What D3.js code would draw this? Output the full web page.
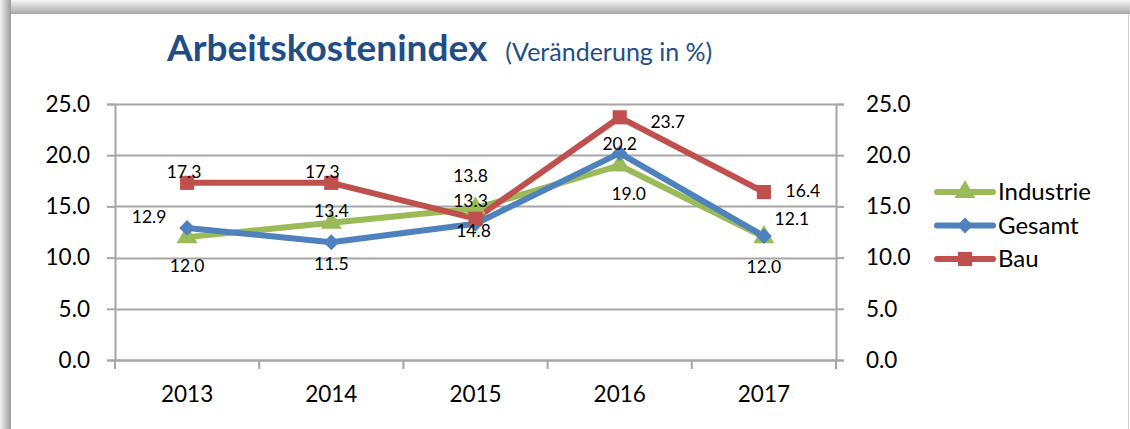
<!DOCTYPE html>
<html>
<head>
<meta charset="utf-8">
<script src="https://cdn.jsdelivr.net/npm/d3@7"></script>
<style>
  body { margin: 0; background: #fff; }
  svg { display: block; font-family: Lato, "Open Sans", sans-serif; }
</style>
</head>
<body>
<svg id="chart" width="1130" height="429"></svg>
<script>
// data
var years = ["2013", "2014", "2015", "2016", "2017"];
var seriesNames = ["Industrie", "Gesamt", "Bau"];
var industrie = [12.0, 13.4, 14.8, 19.0, 12.0];
var gesamt = [12.9, 11.5, 13.3, 20.2, 12.1];
var bau = [17.3, 17.3, 13.8, 23.7, 16.4];
var yTicks = [0, 5, 10, 15, 20, 25];

// where each value label sits next to its point [dx, dy]
var industrieLabelPos = [[0, 35], [0, -6], [-2, 29], [9, 35], [0, 36]];
var gesamtLabelPos = [[-38, -5], [0, 28], [-5, -17], [0, -3], [28, -11]];
var bauLabelPos = [[-3, -5], [-9, -5], [-5, -37], [48, 11], [39, 5]];

var colors = {Industrie: "#9bbb59", Gesamt: "#4f81bd", Bau: "#c0504d"};
var markers = {Industrie: d3.symbolTriangle, Gesamt: d3.symbolSquare, Bau: d3.symbolSquare};
var markerSize = {Industrie: 190, Gesamt: 125, Bau: 200};
var markerTurn = {Industrie: "", Gesamt: "rotate(45)scale(1,1)", Bau: ""};

var series = [
    {name: "Industrie", values: industrie, labels: industrieLabelPos},
    {name: "Gesamt", values: gesamt, labels: gesamtLabelPos},
    {name: "Bau", values: bau, labels: bauLabelPos}
];

var svg = d3.select("#chart");

// shadow frame round the chart box
var defs = svg.append("defs");
var gl = defs.append("linearGradient").attr("id", "shL").attr("x1", 0).attr("x2", 1).attr("y1", 0).attr("y2", 0);
gl.append("stop").attr("offset", 0).attr("stop-color", "#f4f4f4");
gl.append("stop").attr("offset", 1).attr("stop-color", "#9a9a9a");
var gt = defs.append("linearGradient").attr("id", "shT").attr("x1", 0).attr("x2", 0).attr("y1", 0).attr("y2", 1);
gt.append("stop").attr("offset", 0).attr("stop-color", "#f6f6f6");
gt.append("stop").attr("offset", 1).attr("stop-color", "#a8a8a8");
svg.append("rect").attr("x", 0).attr("y", 0).attr("width", 1130).attr("height", 14).attr("fill", "url(#shT)");
svg.append("rect").attr("x", 0).attr("y", 0).attr("width", 11).attr("height", 429).attr("fill", "url(#shL)");
svg.append("rect").attr("x", 11).attr("y", 14).attr("width", 1117).attr("height", 415).attr("fill", "#fff");
svg.append("line").attr("x1", 1128.5).attr("x2", 1128.5).attr("y1", 14).attr("y2", 429)
    .attr("stroke", "#d0d0d0").attr("stroke-width", 1);

// title
var title = svg.append("text").attr("x", 167).attr("y", 61).attr("fill", "#1f4e86");
title.append("tspan").attr("font-size", 37).attr("font-weight", "bold").text("Arbeitskostenindex");
title.append("tspan").attr("font-size", 25).attr("dx", 18).text("(Veränderung in %)");

// scales
var plotLeft = 115, plotRight = 836, plotTop = 104, plotBottom = 360;
var xScale = d3.scaleBand().domain(years).range([plotLeft, plotRight]);
var yScale = d3.scaleLinear().domain([0, 25]).range([plotBottom, plotTop]);
var xPos = function (i) { return xScale(years[i]) + xScale.bandwidth() / 2; };

// gridlines
svg.append("g").selectAll("line")
    .data(yTicks)
    .enter()
    .append("line")
    .attr("x1", plotLeft).attr("x2", plotRight)
    .attr("y1", function (d) { return Math.round(yScale(d)) + 0.5; })
    .attr("y2", function (d) { return Math.round(yScale(d)) + 0.5; })
    .attr("stroke", "#a6a6a6").attr("stroke-width", 2);

// axes
var fmt = d3.format(".1f");
var yLeft = svg.append("g").attr("transform", "translate(" + plotLeft + ",0)")
    .call(d3.axisLeft(yScale).tickValues(yTicks).tickFormat(fmt).tickSize(8).tickPadding(17));
var yRight = svg.append("g").attr("transform", "translate(" + plotRight + ",0)")
    .call(d3.axisRight(yScale).tickValues(yTicks).tickFormat(fmt).tickSize(8).tickPadding(22));
var xAxis = svg.append("g").attr("transform", "translate(0," + plotBottom + ")")
    .call(d3.axisBottom(xScale).tickSize(0).tickPadding(26));

// ticks between categories
svg.append("g").selectAll("line")
    .data(d3.range(years.length + 1))
    .enter()
    .append("line")
    .attr("x1", function (i) { return plotLeft + i * xScale.bandwidth(); })
    .attr("x2", function (i) { return plotLeft + i * xScale.bandwidth(); })
    .attr("y1", plotBottom).attr("y2", plotBottom + 9)
    .attr("stroke", "#a6a6a6").attr("stroke-width", 2);

[yLeft, yRight, xAxis].forEach(function (g) {
    g.select(".domain").attr("stroke", "#a6a6a6").attr("stroke-width", 2);
    g.selectAll(".tick line").attr("stroke", "#a6a6a6").attr("stroke-width", 2);
    g.selectAll("text").attr("font-size", 22.5).attr("fill", "#000").attr("font-family", "Lato, sans-serif");
});
xAxis.select(".domain").remove();
svg.append("line").attr("x1", plotLeft).attr("x2", plotRight).attr("y1", plotBottom + 0.5).attr("y2", plotBottom + 0.5)
    .attr("stroke", "#a6a6a6").attr("stroke-width", 2);

// lines, markers, value labels
var line = d3.line()
    .x(function (d, i) { return xPos(i); })
    .y(function (d) { return yScale(d); });

series.forEach(function (s) {
    svg.append("path")
        .attr("d", line(s.values))
        .attr("fill", "none")
        .attr("stroke", colors[s.name])
        .attr("stroke-width", 6)
        .attr("stroke-linejoin", "round");
});

series.forEach(function (s) {
    svg.append("g").selectAll("path")
        .data(s.values)
        .enter()
        .append("path")
        .attr("d", d3.symbol().type(markers[s.name]).size(markerSize[s.name]))
        .attr("transform", function (d, i) {
            return "translate(" + xPos(i) + "," + yScale(d) + ")" + markerTurn[s.name];
        })
        .attr("fill", colors[s.name]);
});

series.forEach(function (s) {
    svg.append("g").selectAll("text")
        .data(s.values)
        .enter()
        .append("text")
        .attr("x", function (d, i) { return xPos(i) + s.labels[i][0]; })
        .attr("y", function (d, i) { return yScale(d) + s.labels[i][1]; })
        .attr("text-anchor", "middle")
        .attr("font-size", 17.5)
        .attr("fill", "#000")
        .text(function (d) { return fmt(d); });
});

// legend
var legend = svg.append("g").attr("transform", "translate(937,192)");
seriesNames.forEach(function (name, i) {
    var g = legend.append("g").attr("transform", "translate(0," + (i * 33.5) + ")");
    g.append("line").attr("x1", 0).attr("x2", 56).attr("y1", 0).attr("y2", 0)
        .attr("stroke", colors[name]).attr("stroke-width", 6).attr("stroke-linecap", "round");
    g.append("path")
        .attr("d", d3.symbol().type(markers[name]).size(markerSize[name]))
        .attr("transform", "translate(28,0)" + markerTurn[name])
        .attr("fill", colors[name]);
    g.append("text").attr("x", 61).attr("y", 8).attr("font-size", 24).attr("fill", "#000").text(name);
});
</script>
</body>
</html>
